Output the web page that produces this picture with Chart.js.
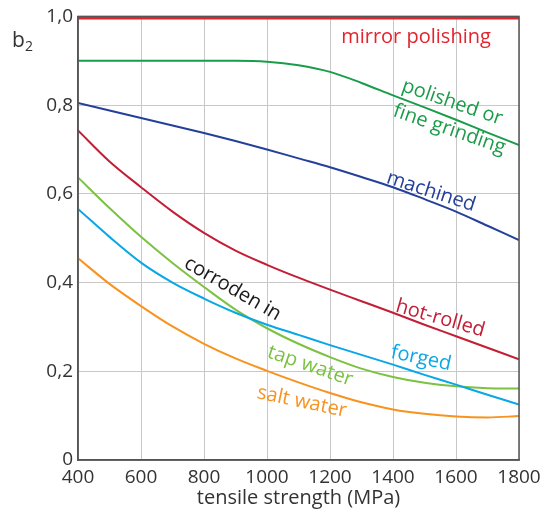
<!DOCTYPE html>
<html>
<head>
<meta charset="utf-8">
<script src="https://cdn.jsdelivr.net/npm/chart.js@4/dist/chart.umd.min.js"></script>
<style>
  html, body { margin: 0; padding: 0; background: #fff; }
</style>
</head>
<body>
<canvas id="b2-chart" width="542" height="516"></canvas>
<script>
// tensile strength (MPa) and b2 readings per surface
var strength         = [400, 500, 600, 700, 800, 900, 1000, 1100, 1200, 1300, 1400, 1500, 1600, 1700, 1800];
var mirrorPolishing  = [0.996, 0.996, 0.996, 0.996, 0.996, 0.996, 0.996, 0.996, 0.996, 0.996, 0.996, 0.996, 0.996, 0.996, 0.996];
var polishedGrinding = [0.9, 0.9, 0.9, 0.9, 0.9, 0.9, 0.898, 0.89, 0.875, 0.85, 0.822, 0.795, 0.767, 0.738, 0.71];
var machined         = [0.805, 0.788, 0.771, 0.754, 0.737, 0.719, 0.70, 0.68, 0.66, 0.638, 0.615, 0.588, 0.56, 0.528, 0.496];
var hotRolled        = [0.743, 0.673, 0.615, 0.560, 0.512, 0.472, 0.440, 0.411, 0.384, 0.358, 0.332, 0.305, 0.279, 0.253, 0.227];
var forged           = [0.566, 0.503, 0.445, 0.40, 0.364, 0.332, 0.305, 0.282, 0.259, 0.237, 0.215, 0.192, 0.17, 0.147, 0.125];
var tapWater         = [0.637, 0.568, 0.503, 0.444, 0.39, 0.339, 0.297, 0.262, 0.232, 0.206, 0.187, 0.174, 0.166, 0.162, 0.161];
var saltWater        = [0.455, 0.397, 0.347, 0.301, 0.262, 0.229, 0.201, 0.175, 0.151, 0.130, 0.114, 0.104, 0.098, 0.096, 0.099];

var xTicks = [400, 600, 800, 1000, 1200, 1400, 1600, 1800];
var yTicks = [0, 0.2, 0.4, 0.6, 0.8, 1.0];

var fontFamily = "'Open Sans', 'Noto Sans', sans-serif";

// curve labels, placed in data units
var curveLabels = [
  { text: 'mirror polishing', x: 1473, y: 0.952, angle: 0,  color: '#e4232d' },
  { text: 'polished or',      x: 1588, y: 0.806, angle: 19, color: '#1b9c4a' },
  { text: 'fine grinding',    x: 1579, y: 0.745, angle: 19, color: '#1b9c4a' },
  { text: 'machined',         x: 1521, y: 0.605, angle: 18, color: '#24409a' },
  { text: 'hot-rolled',       x: 1550, y: 0.319, angle: 16, color: '#c41e36' },
  { text: 'forged',           x: 1489, y: 0.229, angle: 12, color: '#0aa7e6' },
  { text: 'corroden in',      x: 891,  y: 0.386, angle: 30, color: '#1a1a1a' },
  { text: 'tap water',        x: 1137, y: 0.212, angle: 19, color: '#7cc242' },
  { text: 'salt water',       x: 1111, y: 0.131, angle: 12, color: '#f7931e' }
];

function points(values) {
  return strength.map(function(s, i) { return { x: s, y: values[i] }; });
}

function series(label, values, color, width) {
  return {
    label: label,
    data: points(values),
    borderColor: color,
    backgroundColor: color,
    borderWidth: width || 2,
    pointRadius: 0,
    cubicInterpolationMode: 'monotone',
    fill: false
  };
}

/* frame, curve labels and the b2 axis name */
var decorations = {
  id: 'decorations',
  afterDatasetsDraw: function(chart) {
    var ctx = chart.ctx;
    var area = chart.chartArea;
    var xs = chart.scales.x, ys = chart.scales.y;

    ctx.save();
    ctx.strokeStyle = '#555';
    ctx.lineWidth = 1.5;
    ctx.strokeRect(area.left, area.top, area.right - area.left, area.bottom - area.top);

    ctx.font = '20px ' + fontFamily;
    ctx.textAlign = 'center';
    ctx.textBaseline = 'middle';
    curveLabels.forEach(function(l) {
      ctx.save();
      ctx.translate(xs.getPixelForValue(l.x), ys.getPixelForValue(l.y));
      ctx.rotate(l.angle * Math.PI / 180);
      ctx.fillStyle = l.color;
      ctx.fillText(l.text, 0, 0);
      ctx.restore();
    });

    ctx.fillStyle = '#333';
    ctx.textAlign = 'left';
    ctx.textBaseline = 'alphabetic';
    ctx.font = '21px ' + fontFamily;
    ctx.fillText('b', 12, 47);
    ctx.font = '14px ' + fontFamily;
    ctx.fillText('2', 25, 51);
    ctx.restore();
  }
};

var ctx = document.getElementById('b2-chart').getContext('2d');
var chart = new Chart(ctx, {
  type: 'line',
  data: {
    datasets: [
      series('mirror polishing', mirrorPolishing, '#e4232d', 2.5),
      series('polished or fine grinding', polishedGrinding, '#1b9c4a'),
      series('machined', machined, '#24409a'),
      series('hot-rolled', hotRolled, '#c41e36'),
      series('forged', forged, '#0aa7e6'),
      series('tap water', tapWater, '#7cc242'),
      series('salt water', saltWater, '#f7931e')
    ]
  },
  options: {
    responsive: false,
    animation: false,
    layout: { padding: { top: 15, right: 23, bottom: 0, left: 0 } },
    plugins: {
      legend: { display: false },
      tooltip: { enabled: false }
    },
    scales: {
      x: {
        type: 'linear',
        min: 400,
        max: 1800,
        afterBuildTicks: function(scale) {
          scale.ticks = xTicks.map(function(v) { return { value: v }; });
        },
        afterFit: function(scale) {
          scale.height = 56;
          scale.paddingLeft = 0;
          scale.paddingRight = 0;
        },
        grid: { color: '#c8c8c8', lineWidth: 1, drawTicks: false },
        border: { display: true, color: '#555', width: 1.5 },
        ticks: {
          padding: 6,
          maxRotation: 0,
          color: '#333',
          font: { family: fontFamily, size: 19 },
          callback: function(v) { return String(v); }
        },
        title: {
          display: true,
          text: 'tensile strength (MPa)',
          color: '#333',
          font: { family: fontFamily, size: 20 },
          padding: { top: 0, bottom: 6 }
        }
      },
      y: {
        type: 'linear',
        min: 0,
        max: 1.0,
        afterBuildTicks: function(scale) {
          scale.ticks = yTicks.map(function(v) { return { value: v }; });
        },
        afterFit: function(scale) { scale.width = 78; },
        grid: { color: '#c8c8c8', lineWidth: 1, drawTicks: false },
        border: { display: true, color: '#555', width: 1.5 },
        ticks: {
          padding: 5,
          color: '#333',
          font: { family: fontFamily, size: 19 },
          callback: function(v) {
            return v === 0 ? '0' : v.toFixed(1).replace('.', ',');
          }
        }
      }
    }
  },
  plugins: [decorations]
});
</script>
</body>
</html>
